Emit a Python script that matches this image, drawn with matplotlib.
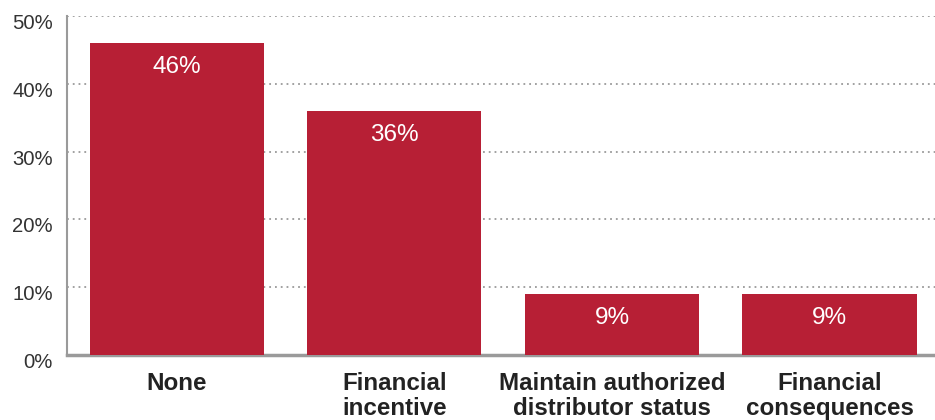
import matplotlib
matplotlib.use("Agg")
import matplotlib.pyplot as plt
import matplotlib.transforms as mtransforms
from matplotlib.ticker import FuncFormatter

categories = ["None", "Financial\nincentive", "Maintain authorized\ndistributor status", "Financial\nconsequences"]
values = [46, 36, 9, 9]
y_ticks = [0, 10, 20, 30, 40, 50]

bar_color = "#B71F35"
grid_color = "#9A9A9A"

plt.rcParams["font.family"] = ["Liberation Sans", "DejaVu Sans"]

fig = plt.figure(figsize=(9.35, 4.2), dpi=100)
ax = fig.add_axes([67 / 935, 1 - 355 / 420, 868 / 935, 339 / 420])

x = range(len(categories))
bars = ax.bar(x, values, width=0.8, color=bar_color, zorder=3)

# value labels sit inside the top of each bar
for rect, v in zip(bars, values):
    ax.annotate(f"{v}%", (rect.get_x() + rect.get_width() / 2, v),
                xytext=(0, -17), textcoords="offset points",
                ha="center", va="center", color="white", fontsize=17.5)

ax.set_xlim(-0.505, 3.485)
ax.set_ylim(0, 50)
ax.set_yticks(y_ticks)
ax.yaxis.set_major_formatter(FuncFormatter(lambda v, _: f"{v:.0f}%"))
ax.set_xticks(list(x))
ax.set_xticklabels(categories, fontsize=17.4, fontweight="bold", color="#222222",
                   linespacing=1.15, va="top")

ax.tick_params(axis="x", length=0, pad=12)
ax.tick_params(axis="y", length=0, pad=10, labelsize=14.6, labelcolor="#333333")

# y labels sit slightly below their gridlines
shift = mtransforms.ScaledTranslation(0, -4 / 72, fig.dpi_scale_trans)
for lbl in ax.get_yticklabels():
    lbl.set_transform(lbl.get_transform() + shift)

ax.yaxis.grid(True, linestyle=(0, (1, 2.2)), color=grid_color, linewidth=1.3, zorder=0)
ax.set_axisbelow(True)

for side in ("top", "right"):
    ax.spines[side].set_visible(False)
ax.spines["left"].set_color(grid_color)
ax.spines["left"].set_linewidth(1.5)
ax.spines["bottom"].set_color(grid_color)
ax.spines["bottom"].set_linewidth(2.5)

fig.savefig("out.png", dpi=100)
